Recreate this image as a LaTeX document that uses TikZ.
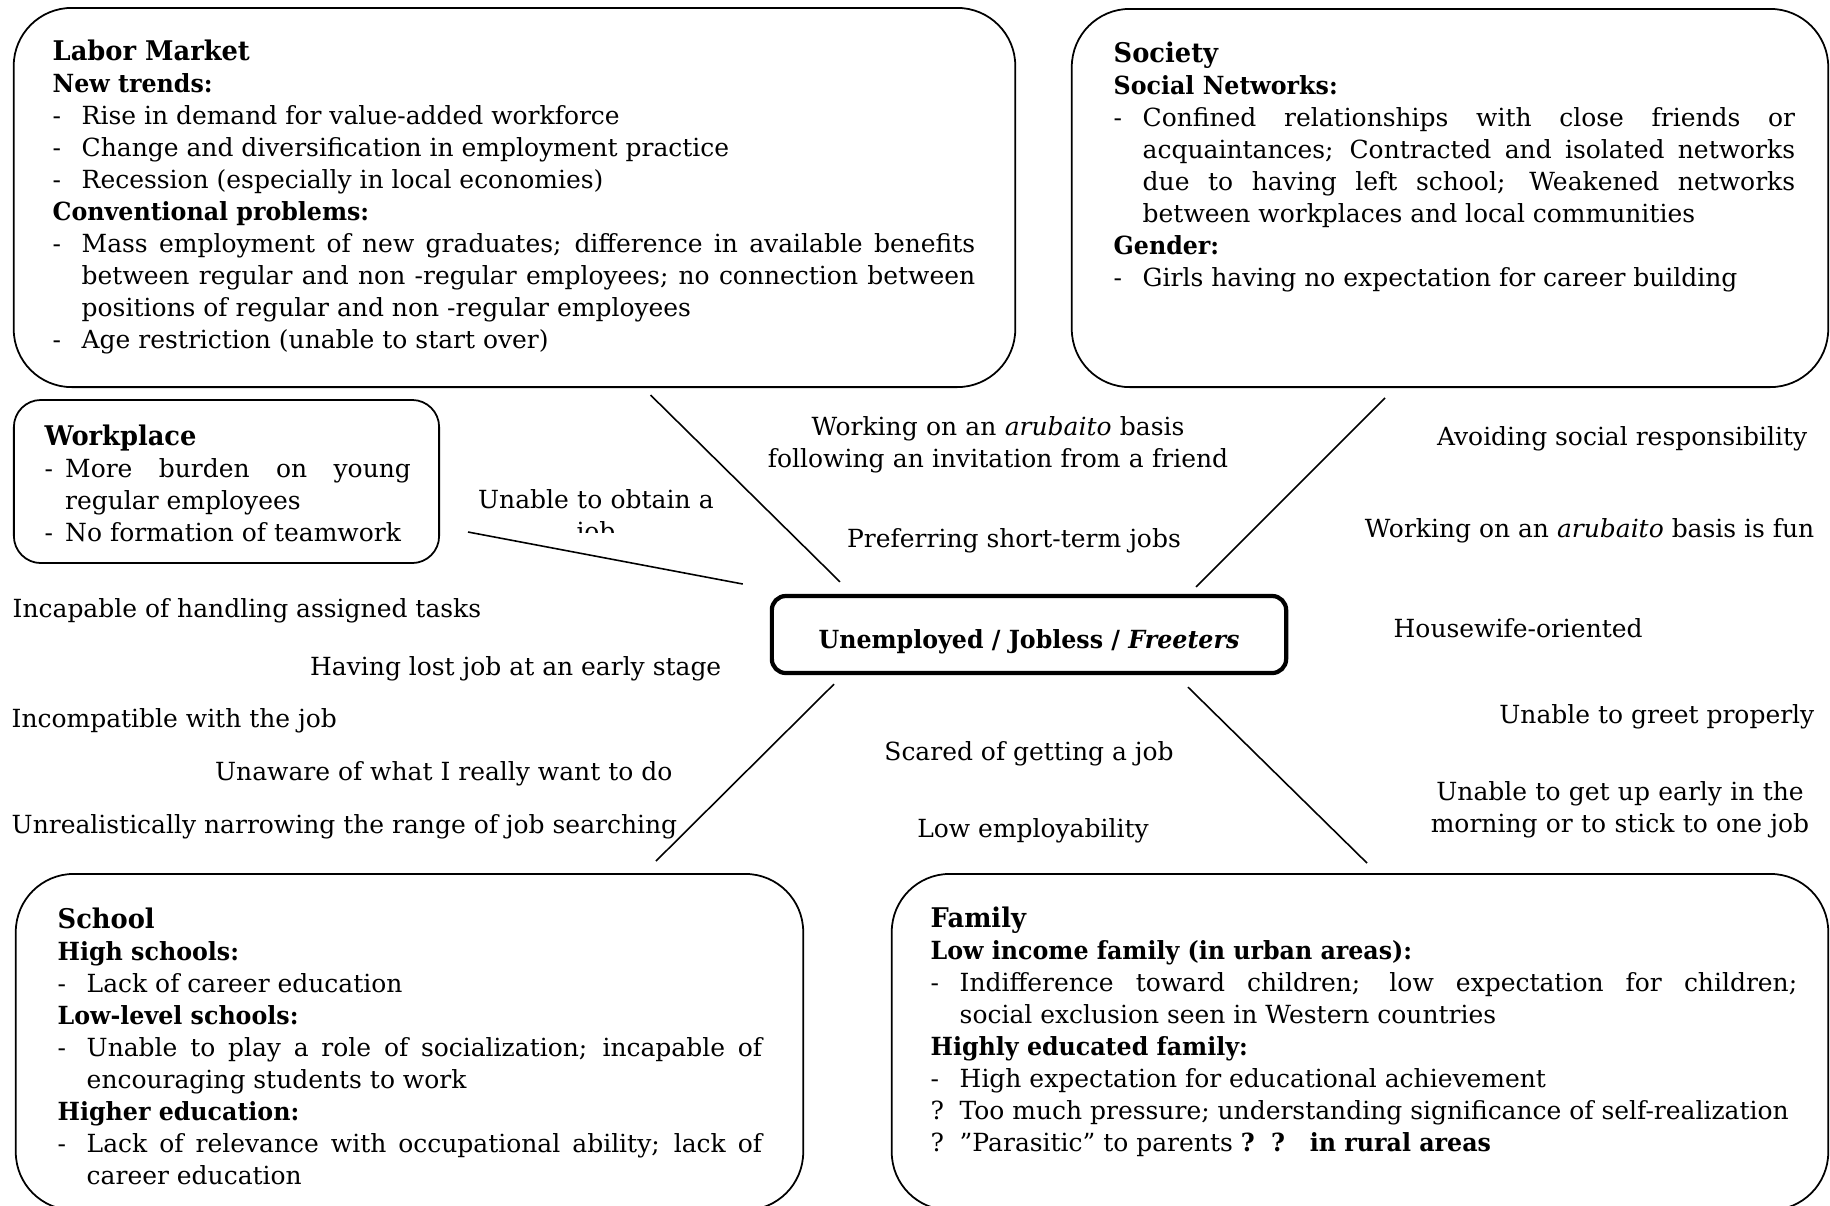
\documentclass[tikz,border=0pt]{standalone}
\usepackage{fontspec}
\setmainfont{DejaVu Serif}[BoldFeatures={FakeStretch=0.95},BoldItalicFeatures={FakeStretch=0.95}]
\usetikzlibrary{positioning}

\newlength{\markgap}
\setlength{\markgap}{0.29cm}
\newcommand{\bodysize}{\fontsize{7.1}{9.1}\selectfont}
\newcommand{\flushjust}{\leftskip=0pt\rightskip=0pt\parfillskip=0pt plus 1fil\relax
  \hyphenpenalty=10000\exhyphenpenalty=10000\relax}
\newcommand{\panelbody}[2]{\parbox[t]{#1}{\flushjust #2}}
\newcommand{\boxhead}[1]{{\fontsize{7.7}{9.1}\selectfont\bfseries #1}\par}
\newcommand{\subhead}[1]{\par\noindent\textbf{#1}\par}
\newcommand{\entry}[2][-]{\par\noindent\hangindent=\markgap\hangafter=1\makebox[\markgap][l]{#1}#2\par}

\tikzset{
  panel/.style={draw, line width=0.5pt, rounded corners=0.58cm, inner sep=0pt},
  block/.style={anchor=base west, inner sep=0pt, font=\bodysize},
  cue/.style={inner sep=0pt, font=\bodysize},
  spoke/.style={line width=0.45pt}
}

\begin{document}
\begin{tikzpicture}[
  x=0.01cm, y=-0.01cm,
  core/.style={draw, line width=1.2pt, rounded corners=0.14cm, minimum width=5.14cm,
    minimum height=0.77cm, inner sep=0pt, font=\bodysize\bfseries,
    text height=9.2pt, text depth=1.5pt}
]
\useasboundingbox (0,0) rectangle (1830,1205);
\clip (0,0) rectangle (1830,1205);

% --- Panels ---
\node[panel, minimum width=10.01cm, minimum height=3.79cm] (lab) at (514.5,197.5) {};
\node[panel, minimum width=7.56cm, minimum height=3.78cm] (soc) at (1450,198) {};
\node[panel, rounded corners=0.27cm, minimum width=4.25cm, minimum height=1.63cm] (work) at (226.5,481.5) {};
\node[panel, minimum width=7.87cm, minimum height=3.36cm] (school) at (409.5,1042) {};
\node[panel, minimum width=9.36cm, minimum height=3.36cm] (fam) at (1360,1042) {};

% --- Panel texts ---
\node[block] (labtext) at (52,60) {\panelbody{9.22cm}{%
  \boxhead{Labor Market}
  \subhead{New trends:}
  \entry{Rise in demand for value-added workforce}
  \entry{Change and diversification in employment practice}
  \entry{Recession (especially in local economies)}
  \subhead{Conventional problems:}
  \entry{Mass employment of new graduates; difference in available benefits\linebreak
    between regular and non -regular employees; no connection between\linebreak
    positions of regular and non -regular employees}
  \entry{Age restriction (unable to start over)}}
};
\node[block] (soctext) at (1113,62) {\panelbody{6.81cm}{%
  \boxhead{Society}
  \subhead{Social Networks:}
  \entry{Confined relationships with close friends or\linebreak
    acquaintances; Contracted and isolated networks\linebreak
    due to having left school; Weakened networks\linebreak
    between workplaces and local communities}
  \subhead{Gender:}
  \entry{Girls having no expectation for career building}}
};
\node[block] (worktext) at (44,445) {\panelbody{3.66cm}{%
  \setlength{\markgap}{0.205cm}%
  \boxhead{Workplace}
  \entry{More burden on young\linebreak regular employees}
  \entry{No formation of teamwork}}
};
\node[block] (schooltext) at (57,928) {\panelbody{7.04cm}{%
  \boxhead{School}
  \subhead{High schools:}
  \entry{Lack of career education}
  \subhead{Low-level schools:}
  \entry{Unable to play a role of socialization; incapable of\linebreak
    encouraging students to work}
  \subhead{Higher education:}
  \entry{Lack of relevance with occupational ability; lack of\linebreak
    career education}}
};
\node[block] (famtext) at (930,927) {\panelbody{8.66cm}{%
  \boxhead{Family}
  \subhead{Low income family (in urban areas):}
  \entry{Indifference toward children; low expectation for children;\linebreak
    social exclusion seen in Western countries}
  \subhead{Highly educated family:}
  \entry{High expectation for educational achievement}
  \entry[?]{Too much pressure; understanding significance of self-realization}
  \entry[?]{''Parasitic'' to parents \textbf{?\ \ ?\ \ \ in rural areas}}}
};

% --- Centre ---
\node[core] (core) at (1029,634.5) {Unemployed / Jobless / \textit{Freeters}};

% --- Spokes ---
\draw[spoke] ([shift={(136,7)}]lab.south) -- ([shift={(-189,-12)}]core.north);
\draw[spoke] ([shift={(-65,10)}]soc.south) -- ([shift={(167,-7)}]core.north);
\draw[spoke] ([shift={(28,50.5)}]work.east) -- ([shift={(-27,-50.5)}]core.west);
\draw[spoke] ([shift={(-195,9)}]core.south) -- ([shift={(246.5,-12)}]school.north);
\draw[spoke] ([shift={(159,12)}]core.south) -- ([shift={(7,-10)}]fam.north);

% --- Cues round the centre ---
\begin{scope}
  \clip (440,440) rectangle (760,532);
  \node[cue, anchor=base, text width=3cm, align=center] (obtain) at (596,508) {Unable to obtain a\\job};
\end{scope}
\node[cue, anchor=base, text width=5cm, align=center] (invite) at (998,435)
  {Working on an \textit{arubaito} basis\\following an invitation from a friend};
\node[cue, anchor=base] (shortterm) at (1014,547) {Preferring short-term jobs};
\node[cue, anchor=base east] (avoid) at (1808,445) {Avoiding social responsibility};
\node[cue, anchor=base east] (fun) at (1815,537) {Working on an \textit{arubaito} basis is fun};
\node[cue, anchor=base west] (housewife) at (1393,637) {Housewife-oriented};
\node[cue, anchor=base east] (greet) at (1815,723) {Unable to greet properly};
\node[cue, anchor=base, text width=4cm, align=center] (getup) at (1620,800)
  {Unable to get up early in the\\morning or to stick to one job};
\node[cue, anchor=base west] (incapable) at (12,617) {Incapable of handling assigned tasks};
\node[cue, anchor=base east] (lostjob) at (722,675) {Having lost job at an early stage};
\node[cue, anchor=base west] (incompat) at (11,727) {Incompatible with the job};
\node[cue, anchor=base east] (unaware) at (673,780) {Unaware of what I really want to do};
\node[cue, anchor=base west] (narrow) at (11,833) {Unrealistically narrowing the range of job searching};
\node[cue, anchor=base] (scared) at (1029,760) {Scared of getting a job};
\node[cue, anchor=base] (lowemp) at (1033,837) {Low employability};

\end{tikzpicture}
\end{document}
